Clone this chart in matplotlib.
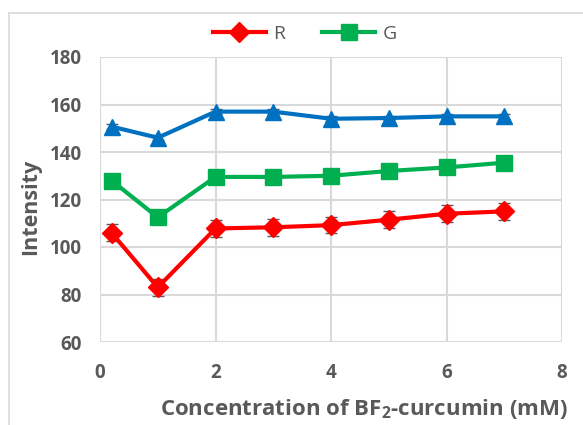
import numpy as np
import matplotlib.pyplot as plt
from matplotlib.lines import Line2D

plt.rcParams['font.family'] = ['Open Sans', 'DejaVu Sans']
plt.rcParams['mathtext.fontset'] = 'custom'
plt.rcParams['mathtext.rm'] = 'Open Sans'
plt.rcParams['mathtext.bf'] = 'Open Sans:bold'

conc = [0.2, 1, 2, 3, 4, 5, 6, 7]
r_vals = [106, 83, 107.8, 108.3, 109.2, 111.5, 114, 115]
r_err = [3.5, 3.5, 3.5, 3.5, 3.5, 3.5, 3.5, 3.5]
g_vals = [128, 112.5, 129.5, 129.5, 130, 132, 133.5, 135.5]
b_vals = [150.7, 146, 157, 157, 154, 154.3, 155, 155]
b_err = [1, 1, 1, 1, 1, 1, 1, 1]

fig = plt.figure(figsize=(5.83, 4.25), dpi=100)
ax = fig.add_axes([100 / 583, 1 - 342 / 425, 462 / 583, 285 / 425])

ecol = '#595959'
ax.errorbar(conc, b_vals, yerr=b_err, color='#0070C0', marker='^', markersize=12,
            linewidth=3, ecolor=ecol, elinewidth=1, capsize=4.5, zorder=3)
ax.plot(conc, g_vals, color='#00B050', marker='s', markersize=12, linewidth=3, zorder=3)
ax.errorbar(conc, r_vals, yerr=r_err, color='#FF0000', marker='D', markersize=10,
            linewidth=3, ecolor=ecol, elinewidth=1, capsize=4.5, zorder=3)

ax.set_xlim(0, 8)
ax.set_ylim(60, 180)
ax.set_xticks([0, 2, 4, 6, 8])
ax.set_yticks(np.arange(60, 181, 20))
ax.grid(True, color='#D9D9D9', linewidth=1.5)
ax.set_axisbelow(True)
for s in ax.spines.values():
    s.set_visible(False)
ax.tick_params(length=0, labelsize=13.5, labelcolor='#595959')
ax.tick_params(axis='x', pad=15)
ax.tick_params(axis='y', pad=13)
for lbl in ax.get_xticklabels() + ax.get_yticklabels():
    lbl.set_fontweight('bold')

fig.text(364 / 583, 1 - 409 / 425, r'Concentration of BF$_\mathbf{2}$-curcumin (mM)',
         fontsize=16, fontweight='bold', color='#595959', ha='center', va='center')
fig.text(31 / 583, 1 - 207 / 425, 'Intensity', fontsize=15.5, fontweight='bold',
         color='#595959', ha='center', va='center', rotation=90)

handles = [Line2D([], [], color='#FF0000', marker='D', markersize=10, linewidth=3),
           Line2D([], [], color='#00B050', marker='s', markersize=12, linewidth=3)]
leg = fig.legend(handles, ['R', 'G'], loc='center', bbox_to_anchor=(305 / 583, 1 - 34 / 425),
                 ncol=2, frameon=False, fontsize=14, handlelength=2.7, columnspacing=1.9,
                 handletextpad=0.4)
for t in leg.get_texts():
    t.set_color('#595959')

fig.add_artist(Line2D([9 / 583, 1], [1 - 13 / 425, 1 - 13 / 425], transform=fig.transFigure,
                      color='#D9D9D9', linewidth=1.2))
fig.add_artist(Line2D([9 / 583, 9 / 583], [0, 1 - 13 / 425], transform=fig.transFigure,
                      color='#D9D9D9', linewidth=1.2))
fig.savefig('out.png', dpi=100)
